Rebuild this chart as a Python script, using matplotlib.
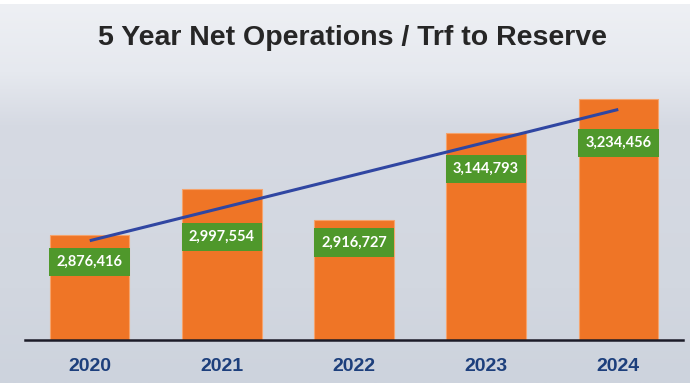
import numpy as np
import matplotlib

matplotlib.use('Agg')
import matplotlib.pyplot as plt
from matplotlib.colors import LinearSegmentedColormap

years = ['2020', '2021', '2022', '2023', '2024']
net_operations = [2876416, 2997554, 2916727, 3144793, 3234456]
# how far below each bar top its value label sits (pixels)
label_drop = [27, 48, 23, 36, 44]


def draw_background(fig):
    bg = fig.add_axes([0, 0.018, 0.988, 0.972], zorder=-10)
    cmap = LinearSegmentedColormap.from_list(
        'bg', [(0.0, '#eef0f4'), (0.18, '#e6e9ef'), (0.32, '#d6dae3'),
               (0.75, '#d2d7e0'), (1.0, '#cdd3dd')])
    grad = np.linspace(0, 1, 256).reshape(-1, 1)
    bg.imshow(grad, aspect='auto', cmap=cmap, extent=[0, 1, 0, 1], origin='upper')
    bg.set_axis_off()


def plot_reserve(years, values, drops):
    fig = plt.figure(figsize=(6.98, 3.90), dpi=100, facecolor='white')
    draw_background(fig)

    ax = fig.add_axes([25 / 698, 50 / 390, 658 / 698, 266 / 390])
    ax.patch.set_alpha(0)
    x = np.arange(len(years))

    ax.bar(x, values, width=0.6, color='#ef7526', edgecolor='#f5a36c',
           linewidth=0.8, zorder=2)

    # linear trend across the five years
    coef = np.polyfit(x, values, 1)
    ends = x[[0, -1]]
    ax.plot(ends, np.polyval(coef, ends), color='#3046a2', lw=2.2,
            solid_capstyle='butt', zorder=3)

    for i, (v, d) in enumerate(zip(values, drops)):
        ax.annotate(f'{v:,}', xy=(i, v), xytext=(0, -d), textcoords='offset pixels',
                    ha='center', va='center', color='white', fontsize=10.5,
                    fontweight='bold', family='Lato', zorder=4,
                    bbox=dict(boxstyle='square,pad=0.5', fc='#4f982b', ec='none'))

    ax.set_xlim(-0.49, 4.49)
    ax.set_ylim(2600000, 3300000)
    ax.set_yticks([])
    ax.set_xticks(x, years)
    ax.tick_params(axis='x', length=0, pad=13)
    for lbl in ax.get_xticklabels():
        lbl.set_fontsize(14)
        lbl.set_fontweight('bold')
        lbl.set_family('Liberation Sans')
        lbl.set_color('#1d3f7c')

    for side in ['top', 'left', 'right']:
        ax.spines[side].set_visible(False)
    ax.spines['bottom'].set_color('#1c1c28')
    ax.spines['bottom'].set_linewidth(1.8)
    ax.spines['bottom'].set_zorder(5)

    fig.text(0.505, 0.903, '5 Year Net Operations / Trf to Reserve', ha='center',
             va='center', fontsize=20.5, fontweight='bold', family='Liberation Sans',
             color='#262626')

    fig.savefig('out.png', dpi=100)


def main():
    plot_reserve(years, net_operations, label_drop)


if __name__ == '__main__':
    main()
